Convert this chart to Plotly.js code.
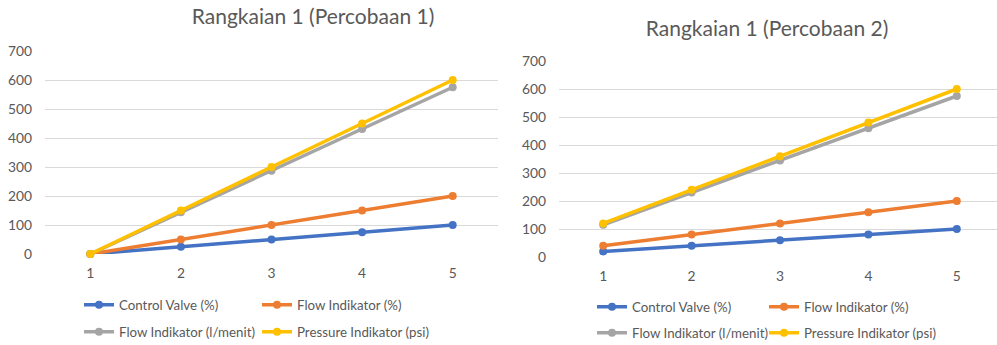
<!DOCTYPE html>
<html>
<head>
<meta charset="utf-8">
<script src="https://cdn.plot.ly/plotly-3.0.1.min.js"></script>
<style>
  html, body { margin:0; padding:0; background:#fff; overflow:hidden; width:997px; height:345px; }
  #c1 { position:absolute; left:0; top:0; width:500px; height:345px; }
  #c2 { position:absolute; left:500px; top:0; width:505px; height:345px; }
</style>
</head>
<body>
<div id="c1"></div>
<div id="c2"></div>
<script>
// ---- data ----
const categories = [1, 2, 3, 4, 5];
const seriesNames = ["Control Valve (%)", "Flow Indikator (%)", "Flow Indikator (l/menit)", "Pressure Indikator (psi)"];
const seriesColors = ["#4472C4", "#ED7D31", "#A5A5A5", "#FFC000"];

const title1 = "Rangkaian 1 (Percobaan 1)";
const p1ControlValve = [0, 25, 50, 75, 100];
const p1FlowPercent = [0, 50, 100, 150, 200];
const p1FlowLpm = [0, 144, 287, 431, 575];
const p1Pressure = [0, 150, 300, 450, 600];

const title2 = "Rangkaian 1 (Percobaan 2)";
const p2ControlValve = [20, 40, 60, 80, 100];
const p2FlowPercent = [40, 80, 120, 160, 200];
const p2FlowLpm = [115, 230, 345, 460, 575];
const p2Pressure = [120, 240, 360, 480, 600];

const yTicks = [0, 100, 200, 300, 400, 500, 600, 700];

const FONT = "Lato, 'Open Sans', sans-serif";
const TXT = "#595959";
const legendIds = ["legend", "legend2", "legend3", "legend4"];

function traces(series) {
  return series.map((ys, i) => ({
    x: categories, y: ys, name: seriesNames[i], type: "scatter", mode: "lines+markers",
    line: { color: seriesColors[i], width: 3.5 },
    marker: { color: seriesColors[i], size: 8 },
    legend: legendIds[i],
    cliponaxis: false
  }));
}

function layout(cfg) {
  const H = 345;
  const leg = (px, py) => ({
    orientation: "h", xref: "container", yref: "container",
    x: px / cfg.w, xanchor: "left", y: 1 - py / H, yanchor: "middle",
    font: { family: FONT, size: 13.3, color: TXT }, bgcolor: "rgba(0,0,0,0)",
    borderwidth: 0, itemclick: false, itemdoubleclick: false
  });
  const L = {
    width: cfg.w, height: H,
    margin: { l: cfg.l, r: cfg.r, t: cfg.t, b: cfg.b, pad: 0, autoexpand: false },
    paper_bgcolor: "#fff", plot_bgcolor: "#fff",
    font: { family: FONT, color: TXT },
    title: { text: cfg.title, x: cfg.titleX, xref: "container", xanchor: "center",
             y: 1 - cfg.titleY / H, yref: "container", yanchor: "middle",
             font: { family: FONT, size: 21, color: TXT } },
    showlegend: true,
    xaxis: { type: "linear", range: [0.5, 5.5], tickvals: categories, ticktext: categories.map(String),
             showgrid: false, zeroline: false, showline: false, ticks: "",
             ticklabelstandoff: 9, tickfont: { family: FONT, size: 13.8, color: TXT }, fixedrange: true },
    yaxis: { range: [0, 700], tickvals: yTicks, showgrid: true, gridcolor: "#D9D9D9", gridwidth: 1,
             zeroline: false, showline: false, ticks: "", ticklabelstandoff: 12,
             tickfont: { family: FONT, size: 13.8, color: TXT }, fixedrange: true }
  };
  cfg.legPos.forEach((p, i) => { L[legendIds[i]] = leg(p[0], p[1]); });
  return L;
}

Plotly.newPlot("c1",
  traces([p1ControlValve, p1FlowPercent, p1FlowLpm, p1Pressure]),
  layout({ w: 500, l: 45, r: 2, t: 51, b: 91, title: title1, titleX: 313 / 500, titleY: 17,
           legPos: [[79, 305], [257, 305], [79, 332], [257, 332]] }),
  { staticPlot: true });

Plotly.newPlot("c2",
  traces([p2ControlValve, p2FlowPercent, p2FlowLpm, p2Pressure]),
  layout({ w: 505, l: 59, r: 4, t: 61, b: 88, title: title2, titleX: 267 / 505, titleY: 29,
           legPos: [[92, 307], [264, 307], [92, 333], [264, 333]] }),
  { staticPlot: true });
</script>
</body>
</html>
